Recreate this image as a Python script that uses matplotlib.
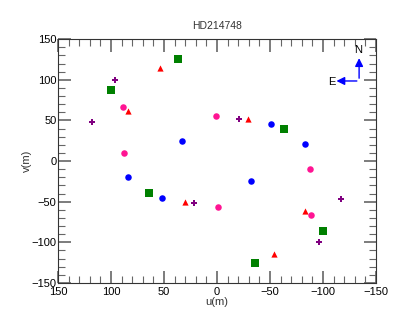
import matplotlib
matplotlib.use('Agg')
import matplotlib.pyplot as plt
import numpy as np

plt.rcParams['font.family'] = ['Liberation Sans', 'DejaVu Sans']

# uv points (each baseline appears with its mirror point)
blue_u = [33, -51, -83, -32, 52, 84]
blue_v = [25, 46, 21, -25, -45, -20]
pink_u = [89, 88, 1, -89, -88, -1]
pink_v = [66, 10, 56, -66, -10, -56]
red_u = [54, 84, -29, -54, -83, 30]
red_v = [114, 62, 52, -114, -61, -51]
purple_u = [96, 118, -21, -96, -117, 22]
purple_v = [100, 48, 52, -100, -47, -52]
green_u = [37, 100, -63, -36, -100, 64]
green_v = [126, 87, 40, -126, -86, -39]

fig = plt.figure(figsize=(4.07, 3.26), dpi=100)
ax = fig.add_axes([0.1425, 0.132, 0.7815, 0.748])

ax.scatter(blue_u, blue_v, s=22, color='blue', marker='o', linewidths=0)
ax.scatter(pink_u, pink_v, s=22, color='deeppink', marker='o', linewidths=0)
ax.scatter(red_u, red_v, s=20, color='red', marker='^', linewidths=0)
ax.scatter(purple_u, purple_v, s=24, color='purple', marker='P', linewidths=0)
ax.scatter(green_u, green_v, s=26, color='green', marker='s', linewidths=0)

ax.set_xlim(150, -150)
ax.set_ylim(-150, 150)
ax.set_xticks(np.arange(150, -151, -50))
ax.set_yticks(np.arange(-150, 151, 50))
ax.set_xticks(np.arange(-150, 151, 10), minor=True)
ax.set_yticks(np.arange(-150, 151, 10), minor=True)
ax.tick_params(which='both', direction='in', top=True, right=True, color='#666666', labelsize=8)
ax.tick_params(axis='x', pad=3)
ax.tick_params(axis='y', pad=1)
ax.tick_params(which='major', length=9, width=1.2)
ax.tick_params(which='minor', length=5, width=0.8)
for s in ax.spines.values():
    s.set_color('#333333')
    s.set_linewidth(0.8)

ax.set_xlabel('u(m)', fontsize=8, labelpad=0, color='#333333')
ax.set_ylabel('v(m)', fontsize=8, labelpad=0, color='#333333')
ax.set_title('HD214748', fontsize=7.5, pad=7, color='#333333')

# compass
ax.annotate('', xy=(-134, 130), xytext=(-134, 98.5),
            arrowprops=dict(arrowstyle='-|>', color='blue', lw=1, mutation_scale=12))
ax.annotate('', xy=(-110, 98.5), xytext=(-134.5, 98.5),
            arrowprops=dict(arrowstyle='-|>', color='blue', lw=1, mutation_scale=12))
ax.text(-133, 136, 'N', fontsize=8, ha='center', va='center')
ax.text(-108, 97, 'E', fontsize=8, ha='center', va='center')

fig.savefig('out.png', dpi=100)
